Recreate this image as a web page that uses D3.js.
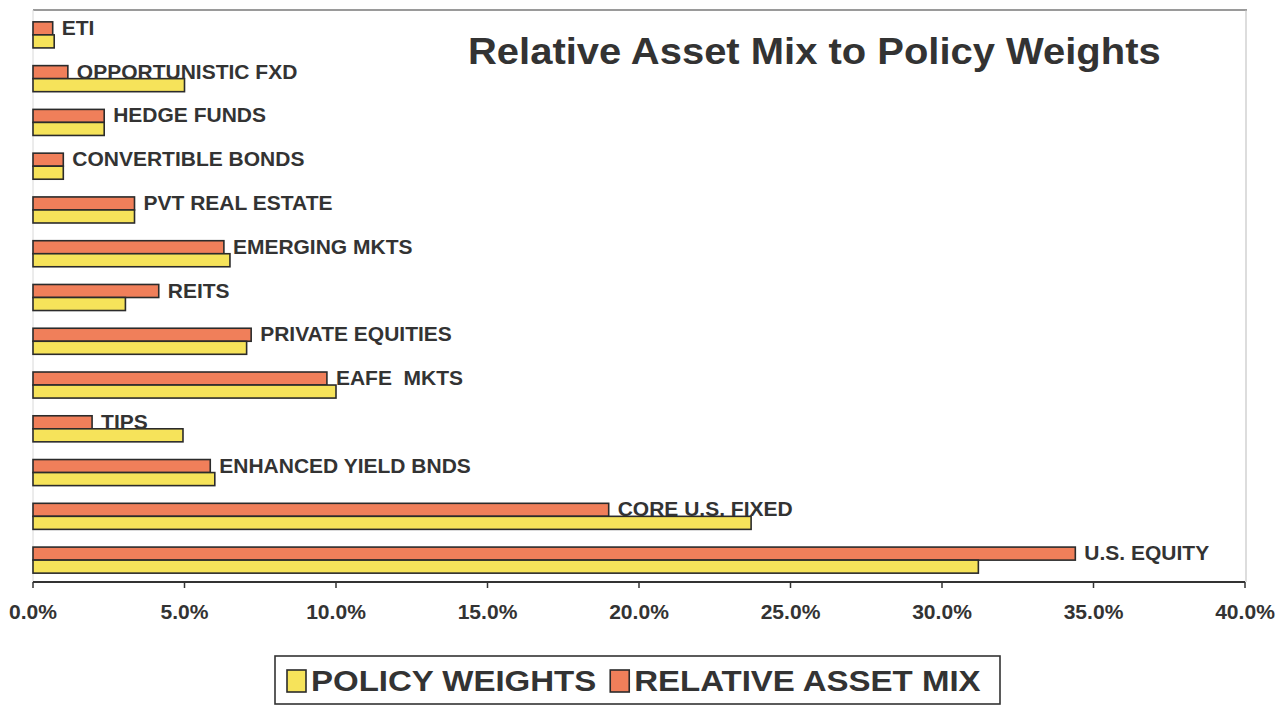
<!DOCTYPE html>
<html>
<head>
<meta charset="utf-8">
<script src="https://cdn.jsdelivr.net/npm/d3@7"></script>
<style>
  html, body { margin: 0; padding: 0; background: #fff; }
  svg { display: block; }
  text { font-family: "Liberation Sans", Arial, sans-serif; font-weight: bold; fill: #333; white-space: pre; }
</style>
</head>
<body>
<svg id="chart" width="1278" height="707"></svg>
<script>
const categories = ["ETI", "OPPORTUNISTIC FXD", "HEDGE FUNDS", "CONVERTIBLE BONDS", "PVT REAL ESTATE",
  "EMERGING MKTS", "REITS", "PRIVATE EQUITIES", "EAFE  MKTS", "TIPS", "ENHANCED YIELD BNDS",
  "CORE U.S. FIXED", "U.S. EQUITY"];
const relativeAssetMix = [0.65, 1.15, 2.35, 1.0, 3.35, 6.3, 4.15, 7.2, 9.7, 1.95, 5.85, 19.0, 34.4];
const policyWeights   = [0.7, 5.0, 2.35, 1.0, 3.35, 6.5, 3.05, 7.05, 10.0, 4.95, 6.0, 23.7, 31.2];
const seriesNames = ["RELATIVE ASSET MIX", "POLICY WEIGHTS"];
const legendOrder = ["POLICY WEIGHTS", "RELATIVE ASSET MIX"];
const xTicks = [0, 5, 10, 15, 20, 25, 30, 35, 40];
const title = "Relative Asset Mix to Policy Weights";

const colors = { "RELATIVE ASSET MIX": "#f07f5a", "POLICY WEIGHTS": "#f6e35a" };
const svg = d3.select("#chart");

const x = d3.scaleLinear().domain([0, 40]).range([33, 1245]);
const y = d3.scaleBand().domain(categories).range([13, 582]).padding(0);
const ySub = d3.scaleBand().domain(seriesNames).range([0, y.bandwidth()]).paddingInner(0).paddingOuter(0.68);

// plot frame
svg.append("line").attr("x1", 33).attr("x2", 1247).attr("y1", 10).attr("y2", 10)
  .attr("stroke", "#9a9a9a").attr("stroke-width", 2);
svg.append("line").attr("x1", 1246).attr("x2", 1246).attr("y1", 10).attr("y2", 582)
  .attr("stroke", "#bbb").attr("stroke-width", 1);
svg.append("line").attr("x1", 33).attr("x2", 33).attr("y1", 10).attr("y2", 582)
  .attr("stroke", "#d8d8d8").attr("stroke-width", 1);

// title
svg.append("text").attr("transform", "translate(468,64) scale(1.08,1)")
  .attr("font-size", 37).text(title);

const rows = categories.map((c, i) => ({ cat: c, vals: { "RELATIVE ASSET MIX": relativeAssetMix[i], "POLICY WEIGHTS": policyWeights[i] } }));

const g = svg.append("g");
const rowG = g.selectAll("g.row").data(rows).join("g").attr("class", "row")
  .attr("transform", d => `translate(0,${y(d.cat)})`);

rowG.selectAll("rect").data(d => seriesNames.map(s => ({ s, v: d.vals[s] }))).join("rect")
  .attr("x", x(0))
  .attr("y", d => ySub(d.s))
  .attr("width", d => x(d.v) - x(0))
  .attr("height", ySub.bandwidth())
  .attr("fill", d => colors[d.s])
  .attr("stroke", "#2b2b2b")
  .attr("stroke-width", 1.6);

rowG.append("text")
  .attr("transform", d => `translate(${x(d.vals["RELATIVE ASSET MIX"]) + 9},${ySub("RELATIVE ASSET MIX") + ySub.bandwidth()}) scale(1.05,1)`)
  .attr("font-size", 20)
  .text(d => d.cat);

// x axis
const axisG = svg.append("g").attr("transform", "translate(0,582)");
axisG.append("line").attr("x1", x(0)).attr("x2", x(40)).attr("stroke", "#333").attr("stroke-width", 2);
axisG.selectAll("line.tick").data(xTicks).join("line").attr("class", "tick")
  .attr("x1", d => x(d)).attr("x2", d => x(d)).attr("y1", 0).attr("y2", 6)
  .attr("stroke", "#333").attr("stroke-width", 1.5);
axisG.selectAll("text").data(xTicks).join("text")
  .attr("transform", d => `translate(${x(d)},37) scale(1.08,1)`)
  .attr("text-anchor", "middle")
  .attr("font-size", 19.5)
  .text(d => d3.format(".1f")(d) + "%");

// legend
const leg = svg.append("g");
leg.append("rect").attr("x", 275).attr("y", 656).attr("width", 725).attr("height", 48)
  .attr("fill", "#fff").attr("stroke", "#333").attr("stroke-width", 1.6);
let lx = 287;
legendOrder.forEach(name => {
  leg.append("rect").attr("x", lx).attr("y", 670).attr("width", 19).attr("height", 22)
    .attr("fill", colors[name]).attr("stroke", "#2b2b2b").attr("stroke-width", 1.6);
  const t = leg.append("text").attr("transform", `translate(${lx + 24},691) scale(1.1,1)`)
    .attr("font-size", 30).attr("fill", "#333").text(name);
  const w = t.node().getComputedTextLength() * 1.1;
  lx = lx + 24 + w + 14;
});
</script>
</body>
</html>
